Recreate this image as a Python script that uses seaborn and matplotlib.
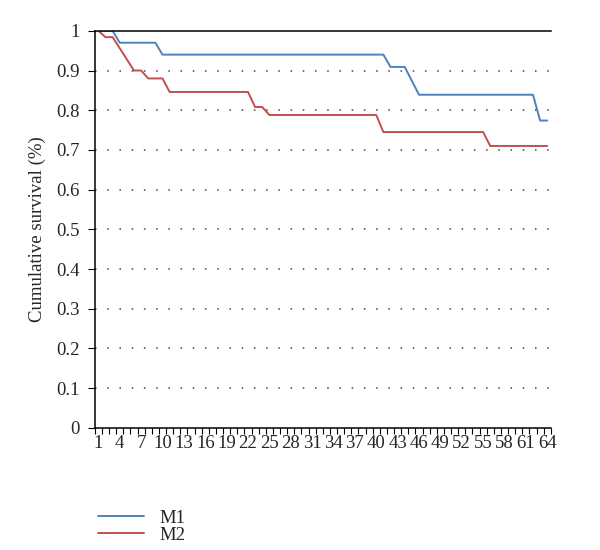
import numpy as np
import pandas as pd
import matplotlib
matplotlib.use("Agg")
import matplotlib.pyplot as plt
import seaborn as sns

# data (follow-up index 1..64)
months = list(range(1, 65))
m1_survival = [
    1.0, 1.0, 1.0, 0.97, 0.97, 0.97, 0.97, 0.97, 0.97, 0.94,
    0.94, 0.94, 0.94, 0.94, 0.94, 0.94, 0.94, 0.94, 0.94, 0.94,
    0.94, 0.94, 0.94, 0.94, 0.94, 0.94, 0.94, 0.94, 0.94, 0.94,
    0.94, 0.94, 0.94, 0.94, 0.94, 0.94, 0.94, 0.94, 0.94, 0.94,
    0.94, 0.909, 0.909, 0.909, 0.874, 0.839, 0.839, 0.839, 0.839, 0.839,
    0.839, 0.839, 0.839, 0.839, 0.839, 0.839, 0.839, 0.839, 0.839, 0.839,
    0.839, 0.839, 0.774, 0.774,
]
m2_survival = [
    1.0, 0.984, 0.984, 0.956, 0.928, 0.90, 0.90, 0.88, 0.88, 0.88,
    0.846, 0.846, 0.846, 0.846, 0.846, 0.846, 0.846, 0.846, 0.846, 0.846,
    0.846, 0.846, 0.808, 0.808, 0.788, 0.788, 0.788, 0.788, 0.788, 0.788,
    0.788, 0.788, 0.788, 0.788, 0.788, 0.788, 0.788, 0.788, 0.788, 0.788,
    0.745, 0.745, 0.745, 0.745, 0.745, 0.745, 0.745, 0.745, 0.745, 0.745,
    0.745, 0.745, 0.745, 0.745, 0.745, 0.71, 0.71, 0.71, 0.71, 0.71,
    0.71, 0.71, 0.71, 0.71,
]
groups = ["M1", "M2"]
colors = {"M1": "#4F81BD", "M2": "#C0504D"}

df = pd.DataFrame({
    "month": months * 2,
    "survival": m1_survival + m2_survival,
    "group": ["M1"] * len(months) + ["M2"] * len(months),
})

sns.set_style("white")
plt.rcParams["font.family"] = ["Liberation Serif", "DejaVu Serif"]

fig = plt.figure(figsize=(6, 5.5), dpi=100)
ax = fig.add_axes([0.158, 0.222, 0.76, 0.722])

sns.lineplot(data=df, x="month", y="survival", hue="group", palette=colors,
             estimator=None, linewidth=1.4, ax=ax, legend=True)

# y axis
yticks = np.round(np.arange(0, 1.01, 0.1), 1)
ax.set_ylim(0, 1)
ax.set_yticks(yticks)
ax.set_yticklabels(["0"] + [f"{v:.1f}" for v in yticks[1:-1]] + ["1"])
for v in yticks[1:-1]:
    ax.axhline(v, color="#444444", linestyle=(0, (1, 7)), linewidth=1.1, zorder=0)

# x axis: category style, labels every 3rd, tick marks between categories
ax.set_xlim(0.5, len(months) + 0.5)
ax.set_xticks(months[::3])
ax.set_xticklabels([str(m) for m in months[::3]])
ax.set_xticks(np.arange(0.5, len(months) + 1, 1), minor=True)
ax.tick_params(axis="x", which="major", length=0, labelsize=13.5, pad=5)
ax.tick_params(axis="x", which="minor", length=4, width=0.8, color="black", direction="out")
ax.tick_params(axis="y", which="major", length=5, width=0.8, color="black",
               direction="out", labelsize=13.5, pad=6)
ax.xaxis.set_ticks_position("bottom")
ax.yaxis.set_ticks_position("left")

ax.set_xlabel("")
ax.set_ylabel("Cumulative survival (%)", fontsize=13.5, labelpad=7)

for side in ["left", "bottom", "top"]:
    ax.spines[side].set_visible(True)
    ax.spines[side].set_color("black")
    ax.spines[side].set_linewidth(1.1)
ax.spines["right"].set_visible(False)

handles, labels = ax.get_legend_handles_labels()
ax.legend_.remove()
fig.legend(handles, labels, loc="upper left", bbox_to_anchor=(0.15, 0.087),
           frameon=False, fontsize=13.5, handlelength=2.5, handletextpad=0.8,
           labelspacing=0.0, borderaxespad=0)

fig.savefig("out.png", dpi=100)
